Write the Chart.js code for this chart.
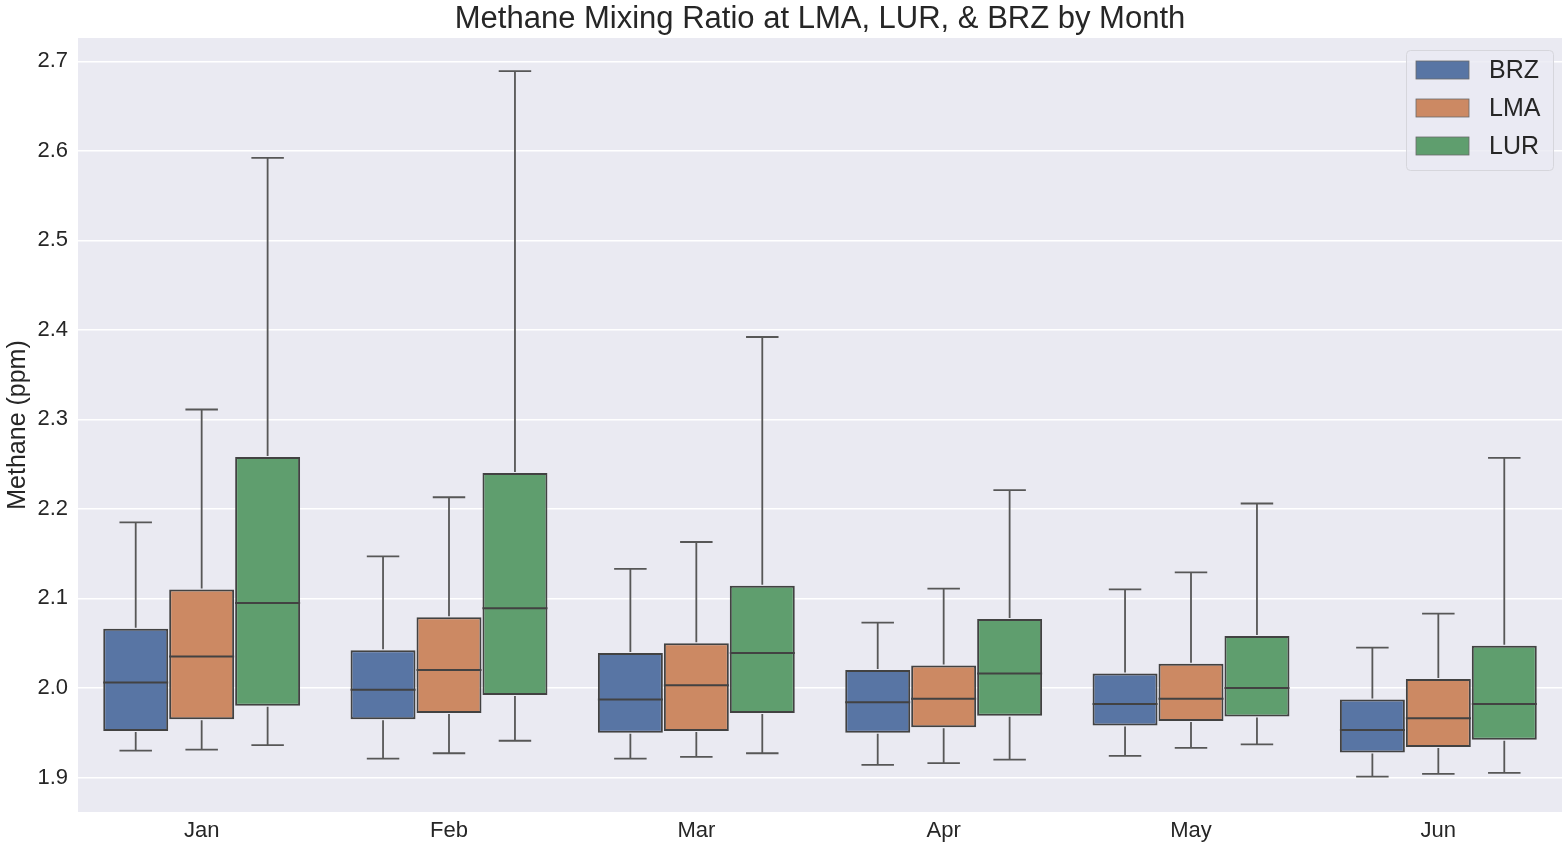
<!DOCTYPE html>
<html>
<head>
<meta charset="utf-8">
<script src="https://cdn.jsdelivr.net/npm/chart.js@4"></script>
<style>
html,body{margin:0;padding:0;background:#fff;}
#wrap{width:1562px;height:844px;}
</style>
</head>
<body>
<div id="wrap"><canvas id="c" width="1562" height="844"></canvas></div>
<script>
const months = ["Jan","Feb","Mar","Apr","May","Jun"];
const seriesNames = ["BRZ","LMA","LUR"];
const seriesColors = ["#5875A4","#CC8963","#5F9E6E"];

// per series, per month: whisker low, Q1, median, Q3, whisker high
const brzMin = [1.930,1.921,1.921,1.914,1.924,1.901];
const brzQ1  = [1.952,1.965,1.950,1.950,1.958,1.928];
const brzMed = [2.006,1.998,1.987,1.984,1.982,1.953];
const brzQ3  = [2.066,2.042,2.039,2.020,2.016,1.987];
const brzMax = [2.185,2.147,2.133,2.073,2.110,2.045];

const lmaMin = [1.931,1.927,1.923,1.916,1.933,1.904];
const lmaQ1  = [1.965,1.972,1.952,1.956,1.963,1.934];
const lmaMed = [2.035,2.020,2.003,1.988,1.988,1.966];
const lmaQ3  = [2.110,2.079,2.050,2.025,2.027,2.010];
const lmaMax = [2.311,2.213,2.163,2.111,2.129,2.083];

const lurMin = [1.936,1.941,1.927,1.920,1.937,1.905];
const lurQ1  = [1.980,1.992,1.972,1.969,1.968,1.942];
const lurMed = [2.095,2.089,2.039,2.016,2.000,1.982];
const lurQ3  = [2.258,2.240,2.114,2.077,2.058,2.047];
const lurMax = [2.592,2.689,2.392,2.221,2.206,2.257];

const yTickValues = [1.9,2.0,2.1,2.2,2.3,2.4,2.5,2.6,2.7];
const yTickLabels = ["1.9","2.0","2.1","2.2","2.3","2.4","2.5","2.6","2.7"];

const stats = [
  {min:brzMin,q1:brzQ1,med:brzMed,q3:brzQ3,max:brzMax},
  {min:lmaMin,q1:lmaQ1,med:lmaMed,q3:lmaQ3,max:lmaMax},
  {min:lurMin,q1:lurQ1,med:lurMed,q3:lurQ3,max:lurMax}
];

const FONT = "'Liberation Sans', Arial, Helvetica, sans-serif";
const TEXT = "#262626";

const datasets = seriesNames.map((name, s) => ({
  label: name,
  data: months.map((m, i) => [stats[s].q1[i], stats[s].q3[i]]),
  backgroundColor: seriesColors[s],
  borderColor: "#424242",
  borderWidth: 2,
  borderSkipped: false,
  categoryPercentage: 0.8,
  barPercentage: 0.985
}));

const bgPlugin = {
  id: "bg",
  beforeDraw(chart) {
    const {ctx, chartArea:a} = chart;
    ctx.save();
    ctx.fillStyle = "#EAEAF2";
    ctx.fillRect(a.left, a.top, a.right - a.left, a.bottom - a.top);
    ctx.restore();
  }
};

const boxPlugin = {
  id: "boxparts",
  afterDatasetsDraw(chart) {
    const ctx = chart.ctx;
    const y = chart.scales.y;
    ctx.save();
    chart.data.datasets.forEach((ds, s) => {
      const meta = chart.getDatasetMeta(s);
      meta.data.forEach((bar, i) => {
        const x = bar.x;
        const w = bar.width;
        const st = stats[s];
        const yMin = y.getPixelForValue(st.min[i]);
        const yQ1 = y.getPixelForValue(st.q1[i]);
        const yQ3 = y.getPixelForValue(st.q3[i]);
        const yMax = y.getPixelForValue(st.max[i]);
        const yMed = y.getPixelForValue(st.med[i]);
        ctx.strokeStyle = "#575757";
        ctx.lineWidth = 1.8;
        ctx.beginPath();
        ctx.moveTo(x, yQ3 - 1); ctx.lineTo(x, yMax);
        ctx.moveTo(x - w/4, yMax); ctx.lineTo(x + w/4, yMax);
        ctx.moveTo(x, yQ1 + 1); ctx.lineTo(x, yMin);
        ctx.moveTo(x - w/4, yMin); ctx.lineTo(x + w/4, yMin);
        ctx.stroke();
        ctx.strokeStyle = "#424242";
        ctx.lineWidth = 2;
        ctx.beginPath();
        ctx.moveTo(bar.x - w/2, yMed); ctx.lineTo(bar.x + w/2, yMed);
        ctx.stroke();
      });
    });
    ctx.restore();
  }
};

const legendPlugin = {
  id: "boxlegend",
  afterDraw(chart) {
    const ctx = chart.ctx;
    const a = chart.chartArea;
    const bx = a.right - 156, by = a.top + 12, bw = 147, bh = 120;
    ctx.save();
    ctx.fillStyle = "rgba(234,234,242,0.8)";
    ctx.strokeStyle = "#d6d6dc";
    ctx.lineWidth = 1;
    ctx.beginPath();
    ctx.roundRect(bx + 0.5, by + 0.5, bw, bh, 4);
    ctx.fill();
    ctx.stroke();
    ctx.font = "25px " + FONT;
    ctx.textBaseline = "middle";
    ctx.textAlign = "left";
    chart.data.datasets.forEach((ds, s) => {
      const cy = by + 20 + s * 38;
      ctx.fillStyle = ds.backgroundColor;
      ctx.fillRect(bx + 10, cy - 9, 53, 18);
      ctx.strokeStyle = "#6a6a6a";
      ctx.lineWidth = 0.8;
      ctx.strokeRect(bx + 10, cy - 9, 53, 18);
      ctx.fillStyle = TEXT;
      ctx.fillText(ds.label, bx + 83, cy + 1);
    });
    ctx.restore();
  }
};

new Chart(document.getElementById("c"), {
  type: "bar",
  data: { labels: months, datasets },
  plugins: [bgPlugin, boxPlugin, legendPlugin],
  options: {
    responsive: false,
    animation: false,
    devicePixelRatio: 1,
    layout: { padding: {left: 0, right: 0, top: 0, bottom: 0} },
    plugins: {
      legend: { display: false },
      tooltip: { enabled: false },
      title: {
        display: true,
        fullSize: false,
        text: "Methane Mixing Ratio at LMA, LUR, & BRZ by Month",
        color: TEXT,
        font: { family: FONT, size: 31, weight: "normal" },
        padding: { top: 0.8, bottom: 0 }
      }
    },
    scales: {
      x: {
        grid: { display: false, drawTicks: false },
        border: { display: false },
        ticks: { color: TEXT, font: { family: FONT, size: 22 }, padding: 6 },
        afterFit(scale) { scale.height = 32; }
      },
      y: {
        min: 1.8614,
        max: 2.726,
        grid: { color: "#ffffff", lineWidth: 1.5, drawTicks: false },
        border: { display: false },
        afterBuildTicks(scale) { scale.ticks = yTickValues.map(v => ({ value: v })); },
        ticks: {
          color: TEXT,
          font: { family: FONT, size: 22 },
          padding: 10,
          callback: (v) => { const k = yTickValues.findIndex(t => Math.abs(t - v) < 1e-6); return k >= 0 ? yTickLabels[k] : ""; }
        },
        title: {
          display: true,
          text: "Methane (ppm)",
          color: TEXT,
          font: { family: FONT, size: 25 },
          padding: { top: 3, bottom: 0 }
        },
        afterFit(scale) { scale.width = 78; }
      }
    }
  }
});
</script>
</body>
</html>
